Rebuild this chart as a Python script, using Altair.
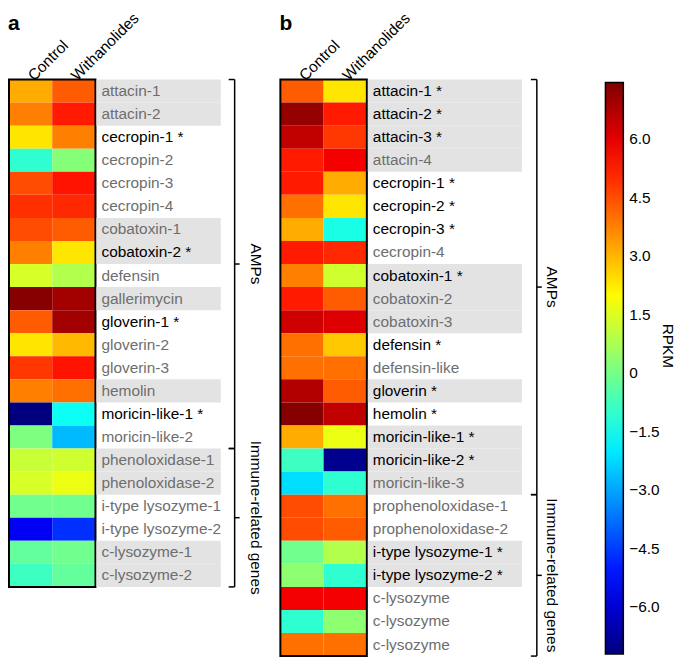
import altair as alt
import pandas as pd

FONT = "Liberation Sans"
FS = 15.5
conditions = ["Control", "Withanolides"]

# ---------------- panel a ----------------
genes_a = ["attacin-1", "attacin-2", "cecropin-1 *", "cecropin-2", "cecropin-3", "cecropin-4",
           "cobatoxin-1", "cobatoxin-2 *", "defensin", "gallerimycin", "gloverin-1 *", "gloverin-2",
           "gloverin-3", "hemolin", "moricin-like-1 *", "moricin-like-2", "phenoloxidase-1",
           "phenoloxidase-2", "i-type lysozyme-1", "i-type lysozyme-2", "c-lysozyme-1", "c-lysozyme-2"]
families_a = ["attacin", "attacin", "cecropin", "cecropin", "cecropin", "cecropin",
              "cobatoxin", "cobatoxin", "defensin", "gallerimycin", "gloverin", "gloverin",
              "gloverin", "hemolin", "moricin-like", "moricin-like", "phenoloxidase",
              "phenoloxidase", "i-type lysozyme", "i-type lysozyme", "c-lysozyme", "c-lysozyme"]
control_a = [3.16, 3.79, 2.32, -1.03, 4.52, 4.94, 4.52, 3.79, 1.38, 7.35, 4.31,
             2.32, 4.83, 3.79, -7.2, 0.12, 1.17, 1.38, -0.08, -5.53, -0.29, -0.82]
withanolides_a = [4.31, 5.25, 3.79, 0.23, 5.36, 5.04, 4.31, 2.32, 0.86, 6.93, 6.93,
                  2.95, 5.36, 4.0, -1.55, -2.70, 1.28, 1.69, -0.08, -4.69, -0.08, -0.29]
groups_a = ["AMPs"] * 16 + ["Immune-related genes"] * 6

# ---------------- panel b ----------------
genes_b = ["attacin-1 *", "attacin-2 *", "attacin-3 *", "attacin-4", "cecropin-1 *", "cecropin-2 *",
           "cecropin-3 *", "cecropin-4", "cobatoxin-1 *", "cobatoxin-2", "cobatoxin-3", "defensin *",
           "defensin-like", "gloverin *", "hemolin *", "moricin-like-1 *", "moricin-like-2 *",
           "moricin-like-3", "prophenoloxidase-1", "prophenoloxidase-2", "i-type lysozyme-1 *",
           "i-type lysozyme-2 *", "c-lysozyme", "c-lysozyme", "c-lysozyme"]
families_b = (["attacin"] * 4 + ["cecropin"] * 4 + ["cobatoxin"] * 3 + ["defensin"] * 2
              + ["gloverin", "hemolin"] + ["moricin-like"] * 3 + ["prophenoloxidase"] * 2
              + ["i-type lysozyme"] * 2 + ["c-lysozyme"] * 3)
control_b = [4.31, 7.14, 6.51, 5.25, 5.25, 4.0, 3.16, 5.25, 3.79, 5.25, 6.30, 4.0, 4.0,
             6.72, 7.35, 3.16, -0.82, -2.18, 4.52, 4.52, -0.08, 0.33, 5.78, -1.03, 4.0]
withanolides_b = [2.32, 5.25, 4.83, 5.78, 3.16, 2.32, -1.34, 5.04, 1.28, 4.31, 6.09, 2.74, 4.0,
                  4.31, 6.51, 1.69, -6.99, -1.03, 4.0, 4.31, 0.86, -1.03, 5.78, 0.33, 4.0]
groups_b = ["AMPs"] * 18 + ["Immune-related genes"] * 7

legend_ticks = [6.0, 4.5, 3.0, 1.5, 0.0, -1.5, -3.0, -4.5, -6.0]

# jet colour map
jet_colors = ["#00007F", "#0000FF", "#007FFF", "#00FFFF", "#7FFF7F",
              "#FFFF00", "#FF7F00", "#FF0000", "#7F0000"]
jet_stops = [-7.2, -5.369, -3.5375, -1.706, 0.125, 1.956, 3.7875, 5.619, 7.45]
cscale = alt.Scale(domain=jet_stops, range=jet_colors, interpolate="rgb")

ROW_H = 23.2
HEAT_W = 87


def frames(genes, families, ctrl, withan, groups):
    n = len(genes)
    rows = []
    for i in range(n):
        rows.append({"row": i, "r1": i + 1, "cond": conditions[0], "value": ctrl[i]})
        rows.append({"row": i, "r1": i + 1, "cond": conditions[1], "value": withan[i]})
    heat = pd.DataFrame(rows)
    fam_order = list(dict.fromkeys(families))
    lab = pd.DataFrame({
        "label": genes,
        "row": list(range(n)),
        "r1": [i + 1 for i in range(n)],
        "mid": [i + 0.5 for i in range(n)],
        "shade": [fam_order.index(f) % 2 == 0 for f in families],
        "sig": ["*" in g for g in genes],
    })
    grp_rows = []
    for g in dict.fromkeys(groups):
        idx = [i for i, x in enumerate(groups) if x == g]
        s, e = min(idx), max(idx) + 1
        grp_rows.append({"group": g, "start": s, "end": e, "mid": (s + e) / 2})
    grp = pd.DataFrame(grp_rows)
    return heat, lab, grp, n


def heat_chart(df, n, letter, legend):
    H = n * ROW_H
    ys = alt.Scale(domain=[0, n], reverse=True, nice=False, zero=False)
    rect = alt.Chart(df).mark_rect().encode(
        x=alt.X("cond:N", sort=conditions, scale=alt.Scale(paddingInner=0, paddingOuter=0),
                axis=alt.Axis(orient="top", labelAngle=-45, labelAlign="left", labelBaseline="middle",
                              ticks=False, domain=False, title=None, labelFontSize=FS,
                              labelFont=FONT, labelColor="black", labelPadding=2)),
        y=alt.Y("row:Q", scale=ys, axis=None),
        y2="r1:Q",
        color=alt.Color("value:Q", scale=cscale, legend=legend),
    )
    one = pd.DataFrame({"t": [letter]})
    border = alt.Chart(one).mark_rect(filled=False, stroke="black", strokeWidth=2).encode(
        x=alt.value(0), x2=alt.value(HEAT_W), y=alt.value(0), y2=alt.value(H))
    lett = alt.Chart(one).mark_text(align="left", baseline="alphabetic", fontSize=21,
                                    fontWeight="bold", font=FONT).encode(
        x=alt.value(-1), y=alt.value(-50), text="t:N")
    return alt.layer(rect, border, lett).properties(width=HEAT_W, height=H)


def label_chart(lab, grp, n, width, band_w, bx, tx, extra=None):
    ys = alt.Scale(domain=[0, n], reverse=True, nice=False, zero=False)
    bands = alt.Chart(lab).transform_filter("datum.shade").mark_rect(color="#e3e3e3").encode(
        x=alt.value(1), x2=alt.value(band_w),
        y=alt.Y("row:Q", scale=ys, axis=None), y2="r1:Q")
    texts = alt.Chart(lab).mark_text(align="left", baseline="middle", fontSize=FS, font=FONT).encode(
        x=alt.value(6), y=alt.Y("mid:Q", scale=ys, axis=None), text="label:N",
        color=alt.condition("datum.sig", alt.value("black"), alt.value("#6e6e6e")))
    vline = alt.Chart(grp).mark_rule(color="black", strokeWidth=1.5).encode(
        x=alt.value(bx), y=alt.Y("start:Q", scale=ys, axis=None), y2="end:Q")
    top_h = alt.Chart(grp).mark_rule(color="black", strokeWidth=1.5).encode(
        x=alt.value(bx - 6), x2=alt.value(bx), y=alt.Y("start:Q", scale=ys, axis=None))
    bot_h = alt.Chart(grp).mark_rule(color="black", strokeWidth=1.5).encode(
        x=alt.value(bx - 6), x2=alt.value(bx), y=alt.Y("end:Q", scale=ys, axis=None))
    mid_h = alt.Chart(grp).mark_rule(color="black", strokeWidth=1.5).encode(
        x=alt.value(bx), x2=alt.value(bx + 5), y=alt.Y("mid:Q", scale=ys, axis=None))
    gtext = alt.Chart(grp).mark_text(angle=90, align="center", baseline="middle",
                                     fontSize=FS, font=FONT).encode(
        x=alt.value(tx), y=alt.Y("mid:Q", scale=ys, axis=None), text="group:N")
    layers = [bands, texts, vline, top_h, bot_h, mid_h, gtext]
    if extra is not None:
        layers.append(extra)
    return alt.layer(*layers).properties(width=width, height=n * ROW_H)


heat_a, lab_a, grp_a, n_a = frames(genes_a, families_a, control_a, withanolides_a, groups_a)
heat_b, lab_b, grp_b, n_b = frames(genes_b, families_b, control_b, withanolides_b, groups_b)

legend = alt.Legend(
    orient="none", legendX=600, legendY=3, direction="vertical",
    gradientLength=575, gradientThickness=18, values=legend_ticks,
    labelExpr="datum.value == 0 ? '0' : replace(format(datum.value, '.1f'), '-', '\u2212')",
    title=None, labelFontSize=FS, labelFont=FONT, labelColor="black",
    gradientStrokeColor="black", gradientStrokeWidth=1.5, labelOffset=6,
)

rpkm = alt.Chart(pd.DataFrame({"t": ["RPKM"]})).mark_text(
    angle=90, align="center", baseline="middle", fontSize=FS, font=FONT).encode(
    x=alt.value(303), y=alt.value(268), text="t:N")

chart = alt.hconcat(
    heat_chart(heat_a, n_a, "a", legend),
    label_chart(lab_a, grp_a, n_a, 186, 126, 140, 161),
    heat_chart(heat_b, n_b, "b", None),
    label_chart(lab_b, grp_b, n_b, 312, 156, 171, 186, rpkm),
    spacing=0, bounds="flush",
).properties(padding=0).configure_view(strokeWidth=0)

chart.save("out.html", embed_options={"renderer": "svg", "actions": False})
